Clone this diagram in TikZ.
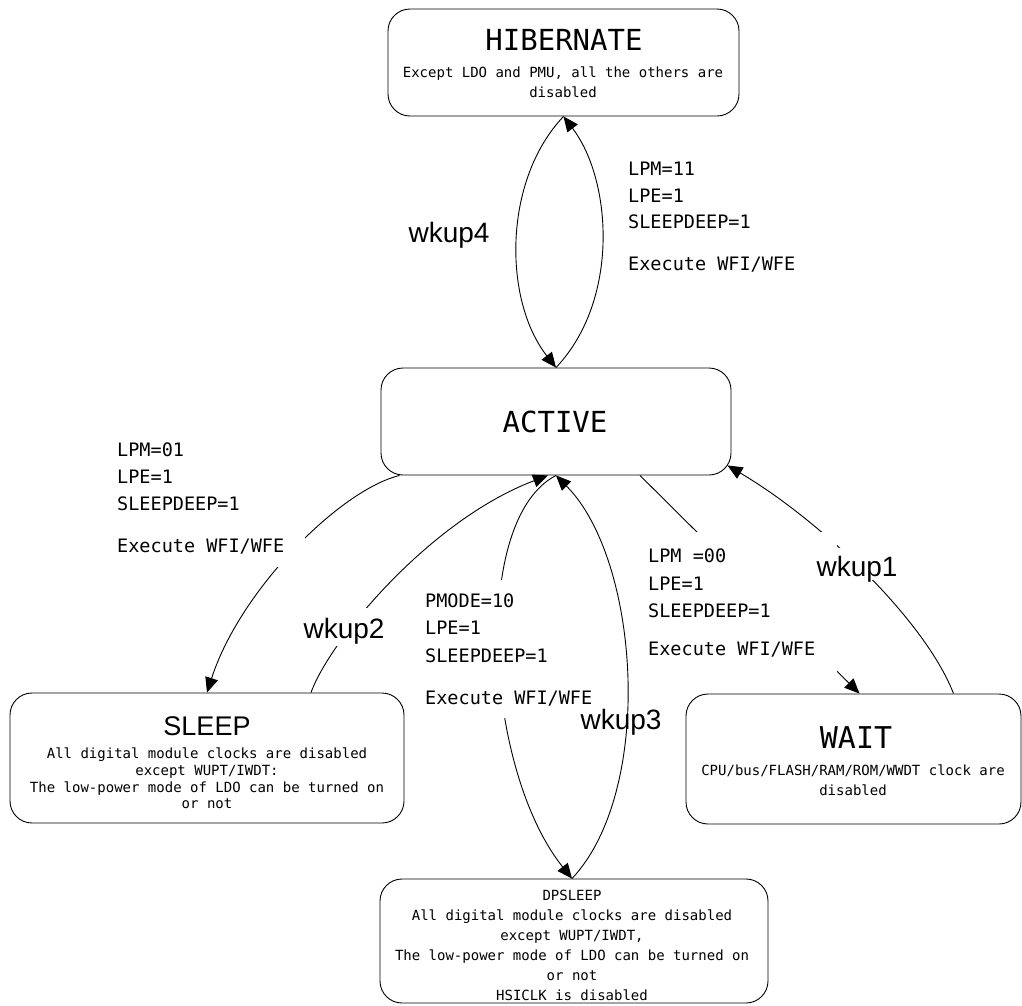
\documentclass[tikz,border=0pt]{standalone}
\usepackage{fontspec}
\setmainfont{Liberation Sans}
\newfontfamily\monofont{DejaVu Sans Mono}
\usetikzlibrary{arrows.meta}
\begin{document}
\begin{tikzpicture}[x=1pt,y=-1pt,
  state/.style={draw, rounded corners=22pt, line width=0.9pt, inner sep=0pt},
  flow/.style={line width=0.9pt, -{Triangle[length=15pt,width=13pt]}},
  cond/.style={anchor=base west, inner sep=0pt, font=\monofont\fontsize{18.5}{22}\selectfont},
  ttl/.style={anchor=base, inner sep=0pt, font=\monofont\fontsize{29}{33}\selectfont},
  desc/.style={anchor=base, inner sep=0pt, font=\monofont\fontsize{14}{17}\selectfont},
  wk/.style={anchor=base, inner sep=0pt, font=\fontsize{28}{32}\selectfont},
  cover/.style={fill=white}]
\useasboundingbox (0,0) rectangle (1022,1005);

% state boxes
\node[state, minimum width=351pt, minimum height=107pt] (hib) at (563.5,62.5) {};
\node[state, minimum width=350pt, minimum height=107pt] (act) at (556,421.5) {};
\node[state, minimum width=394pt, minimum height=130pt] (sleep) at (207,758) {};
\node[state, minimum width=335pt, minimum height=130pt] (wait) at (853.5,759) {};
\node[state, minimum width=388pt, minimum height=124pt] (dps) at (574,941) {};

% transitions
\draw[flow] (hib.south) .. controls (503,180) and (503,300) .. (act.north);
\draw[flow] (act.north) .. controls (620,300) and (612,180) .. (hib.south);
\draw[flow] ([xshift=19pt]act.south west) .. controls (340,490) and (240,590) .. (sleep.north);
\draw[flow] ([xshift=104pt]sleep.north) .. controls (330,640) and (430,520) .. ([xshift=-8pt]act.south);
\draw[flow] (act.south) .. controls (470,520) and (485,770) .. ([xshift=-2pt]dps.north);
\draw[flow] ([xshift=-2pt]dps.north) .. controls (655,790) and (640,560) .. (act.south);
\draw[flow] ([xshift=84pt]act.south) -- ([xshift=6pt]wait.north);
\draw[flow] ([xshift=100pt]wait.north) .. controls (925,620) and (820,520) .. ([xshift=-4pt,yshift=10pt]act.south east);

% label backgrounds
\fill[cover] (110,435) rectangle (305,567);
\fill[cover] (418,580) rectangle (600,718);
\fill[cover] (645,532) rectangle (837,672);
\fill[cover] (300,608) rectangle (388,646);
\fill[cover] (813,548) rectangle (900,580);

% state texts
\node[ttl] (hibT) at (564,50) {HIBERNATE};
\node[desc] (hibD1) at (563,77) {Except LDO and PMU, all the others are};
\node[desc] (hibD2) at (563,97) {disabled};

\node[ttl] (actT) at (555,432) {ACTIVE};

\node[anchor=base, inner sep=0pt, font=\fontsize{27}{32}\selectfont] (sleepT) at (207,735) {SLEEP};
\node[desc] (sleepD1) at (207,758) {All digital module clocks are disabled};
\node[desc] (sleepD2) at (207,775) {except WUPT/IWDT:};
\node[desc] (sleepD3) at (207,792) {The low-power mode of LDO can be turned on};
\node[desc] (sleepD4) at (207,808) {or not};

\node[ttl, font=\monofont\fontsize{30}{34}\selectfont] (waitT) at (856,748) {WAIT};
\node[desc] (waitD1) at (853,775) {CPU/bus/FLASH/RAM/ROM/WWDT clock are};
\node[desc] (waitD2) at (853,795) {disabled};

\node[desc] (dpsT) at (572,900) {DPSLEEP};
\node[desc] (dpsD1) at (572,920) {All digital module clocks are disabled};
\node[desc] (dpsD2) at (572,940) {except WUPT/IWDT,};
\node[desc] (dpsD3) at (572,960) {The low-power mode of LDO can be turned on};
\node[desc] (dpsD4) at (572,980) {or not};
\node[desc] (dpsD5) at (572,1000) {HSICLK is disabled};

% transition conditions
\node[cond] (c11a) at (628,175) {LPM=11};
\node[cond] (c11b) at (628,202) {LPE=1};
\node[cond] (c11c) at (628,228) {SLEEPDEEP=1};
\node[cond] (c11d) at (628,270) {Execute WFI/WFE};

\node[cond] (c01a) at (117,456) {LPM=01};
\node[cond] (c01b) at (117,483) {LPE=1};
\node[cond] (c01c) at (117,510) {SLEEPDEEP=1};
\node[cond] (c01d) at (117,552) {Execute WFI/WFE};

\node[cond] (c10a) at (425,607) {PMODE=10};
\node[cond] (c10b) at (425,634) {LPE=1};
\node[cond] (c10c) at (425,662) {SLEEPDEEP=1};
\node[cond] (c10d) at (425,704) {Execute WFI/WFE};

\node[cond] (c00a) at (648,562) {LPM =00};
\node[cond] (c00b) at (648,590) {LPE=1};
\node[cond] (c00c) at (648,617) {SLEEPDEEP=1};
\node[cond] (c00d) at (648,655) {Execute WFI/WFE};

% wake-up labels
\node[wk] (w4) at (449,242) {wkup4};
\node[wk] (w2) at (344,638) {wkup2};
\node[wk] (w3) at (621,729) {wkup3};
\node[wk] (w1) at (857,576) {wkup1};
\end{tikzpicture}
\end{document}
